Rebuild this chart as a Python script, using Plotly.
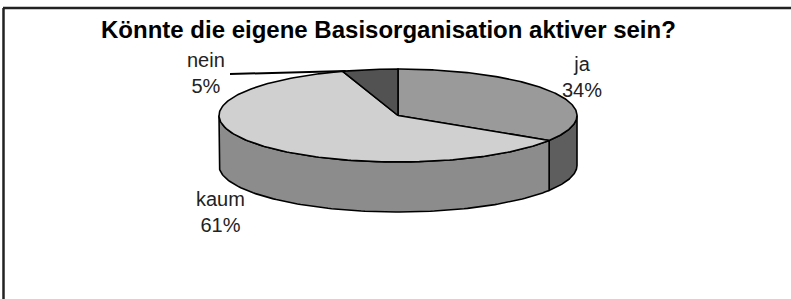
import numpy as np
import plotly.graph_objects as go

# ---- data ----
labels = ["ja", "kaum", "nein"]
values = [34, 61, 5]
title_text = "Könnte die eigene Basisorganisation aktiver sein?"

# ---- style ----
top_colors = ["#9a9a9a", "#d0d0d0", "#525252"]
side_colors = ["#5e5e5e", "#8c8c8c", "#333333"]
W, H = 791, 299
CX, CY, RX, RY, DEPTH = 398, 115.5, 179, 46.5, 50
FONT = "Arial, 'Liberation Sans', sans-serif"


def pt(theta_deg, dy=0.0):
    t = np.radians(theta_deg)
    return CX + RX * np.sin(t), CY - RY * np.cos(t) + dy


fig = go.Figure()

total = float(sum(values))
bounds = []
acc = 0.0
for v in values:
    a0 = acc / total * 360.0
    acc += v
    a1 = acc / total * 360.0
    bounds.append((a0, a1))

# side faces (visible front part between 90 and 270 degrees)
for (a0, a1), sc in zip(bounds, side_colors):
    s0, s1 = max(a0, 90.0), min(a1, 270.0)
    if s1 <= s0:
        continue
    th = np.linspace(s0, s1, 120)
    xt, yt = pt(th)
    xb, yb = pt(th[::-1], DEPTH)
    xs = np.concatenate([xt, xb, xt[:1]])
    ys = np.concatenate([yt, yb, yt[:1]])
    fig.add_trace(go.Scatter(x=xs, y=ys, mode="lines", fill="toself",
                             fillcolor=sc, line=dict(color="#000", width=1.6),
                             hoverinfo="skip", showlegend=False))

# top faces
for (a0, a1), tc, lab, v in zip(bounds, top_colors, labels, values):
    th = np.linspace(a0, a1, 200)
    xa, ya = pt(th)
    xs = np.concatenate([[CX], xa, [CX]])
    ys = np.concatenate([[CY], ya, [CY]])
    fig.add_trace(go.Scatter(x=xs, y=ys, mode="lines", fill="toself",
                             fillcolor=tc, line=dict(color="#000", width=1.6),
                             name=lab, text=f"{lab}: {v}%", hoverinfo="text",
                             showlegend=False))

# labels
label_pos = {"ja": (582, 77), "kaum": (220, 212), "nein": (206, 73)}
for lab, v in zip(labels, values):
    x, y = label_pos[lab]
    fig.add_annotation(x=x, y=y, xref="x", yref="y", text=f"{lab}<br>{v}%",
                       showarrow=False, align="center",
                       font=dict(family=FONT, size=20, color="#222"))

# leader line for "nein"
lx, ly = pt(bounds[2][0] + 1.0)
fig.add_shape(type="line", x0=230, y0=74, x1=lx, y1=ly, xref="x", yref="y",
              line=dict(color="#000", width=2))

# frame (top and left edges)
fig.add_shape(type="line", x0=3, y0=8, x1=W, y1=8, xref="x", yref="y",
              line=dict(color="#222", width=2.5))
fig.add_shape(type="line", x0=3.5, y0=8, x1=3.5, y1=H, xref="x", yref="y",
              line=dict(color="#222", width=2.5))

fig.add_annotation(x=388.5, y=29, xref="x", yref="y", text=f"<b>{title_text}</b>",
                   showarrow=False, font=dict(family=FONT, size=24, color="#000"))

fig.update_layout(
    width=W, height=H, margin=dict(l=0, r=0, t=0, b=0),
    paper_bgcolor="white", plot_bgcolor="white",
    xaxis=dict(range=[0, W], visible=False, fixedrange=True),
    yaxis=dict(range=[H, 0], visible=False, fixedrange=True),
    showlegend=False,
)

fig.write_html("out.html", config={"displayModeBar": False},
               post_script="document.body.style.margin='0';document.body.style.overflow='hidden';")
